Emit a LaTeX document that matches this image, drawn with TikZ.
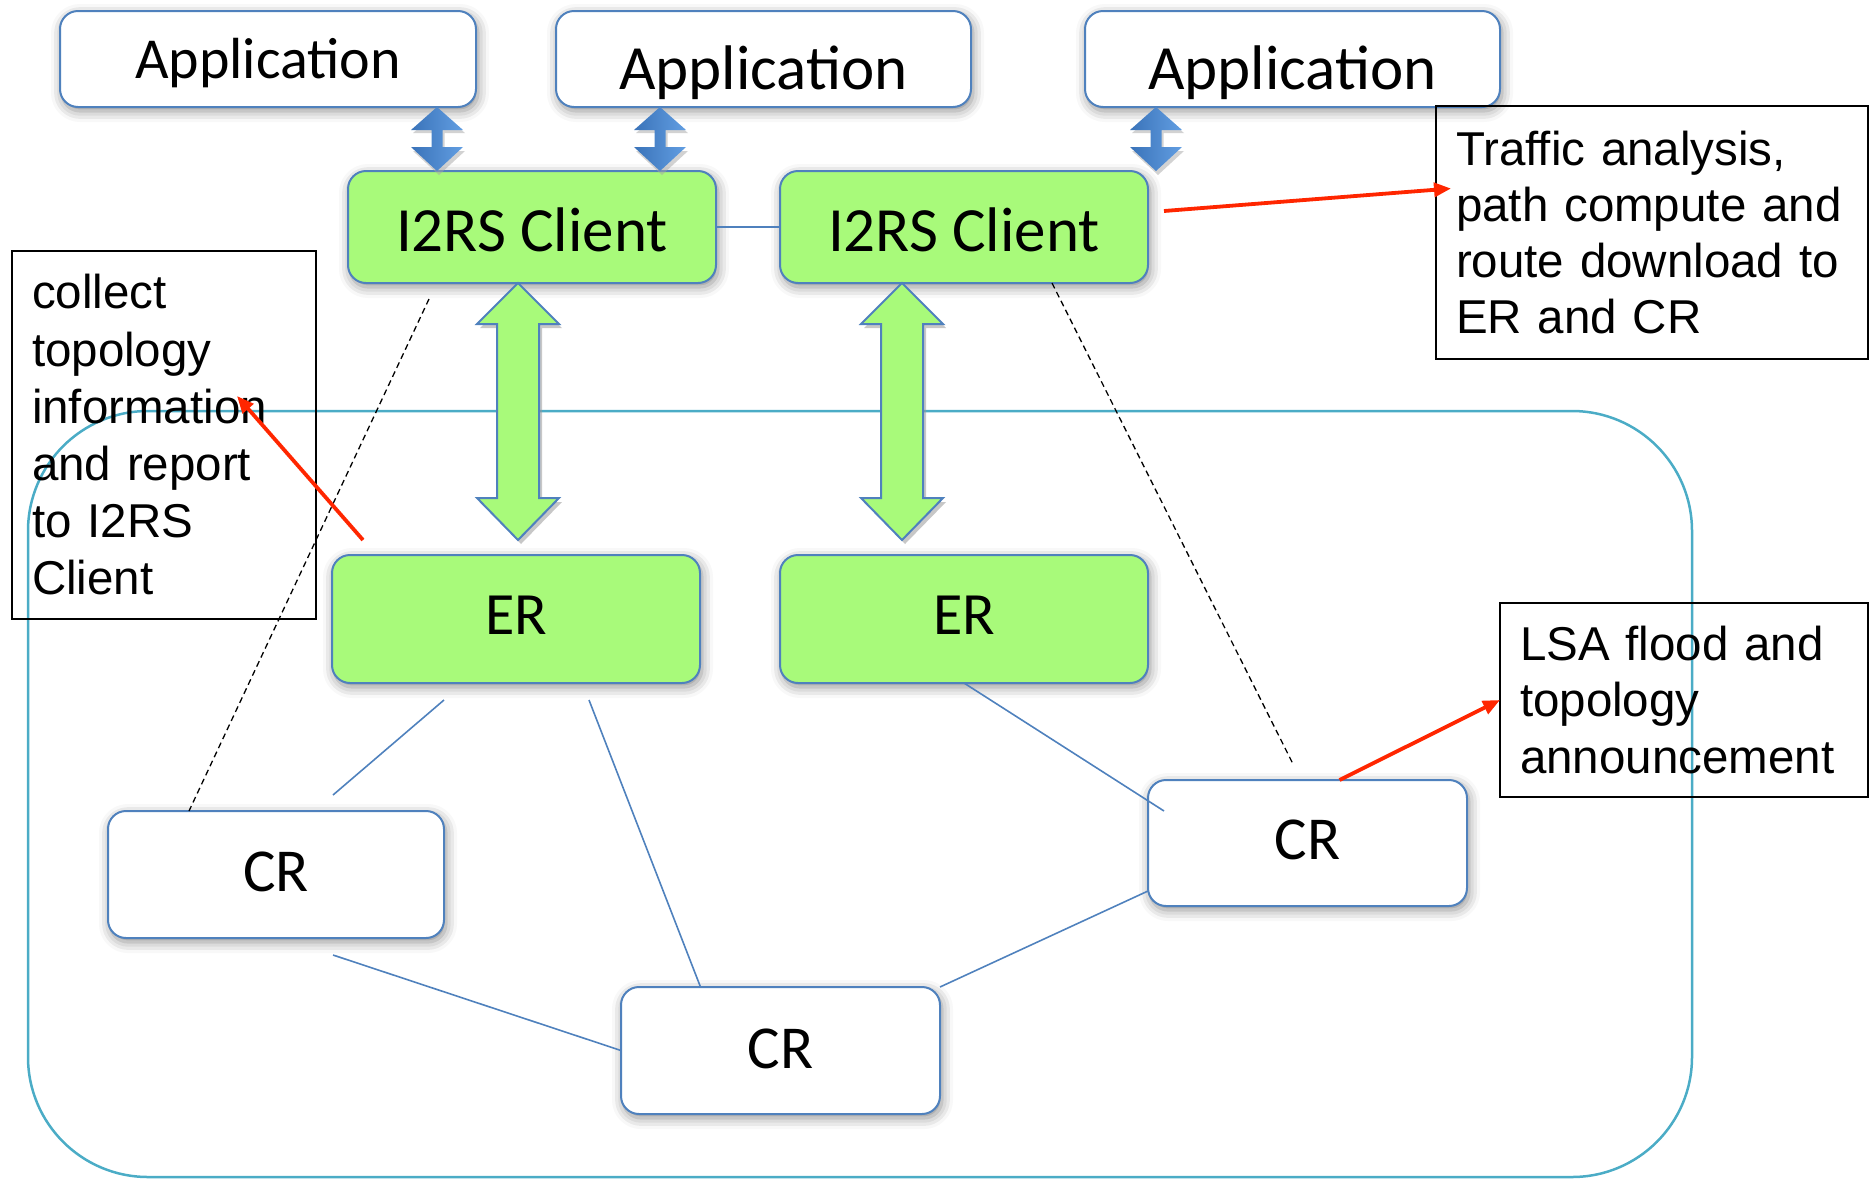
\documentclass[tikz,border=0pt]{standalone}
\usepackage{fontspec}
\setmainfont{Liberation Sans}
\newfontfamily\boxfont{Carlito}
\usetikzlibrary{arrows.meta,calc,shadows.blur}

\definecolor{boxblue}{RGB}{79,129,189}
\definecolor{boxgreen}{RGB}{168,250,122}
\definecolor{cloudblue}{RGB}{75,172,198}
\definecolor{callred}{RGB}{255,38,0}
\definecolor{arrowblueA}{RGB}{58,115,185}
\definecolor{arrowblueB}{RGB}{98,158,226}

% small blue double arrow: #1 x, #2 upper anchor, #3 lower anchor
\newcommand\bluelink[3]{%
  \path[fill=black!35,opacity=0.5] let \p1=(#1,0 |- #2), \p2=(#1,0 |- #3) in
    (\x1+2pt,\y1-4pt) -- (\x1+28pt,\y1-26pt) -- (\x1+7.5pt,\y1-26pt) -- (\x1+7.5pt,\y2+20pt)
    -- (\x1+28pt,\y2+20pt) -- (\x2+2pt,\y2-4pt) -- (\x1-24pt,\y2+20pt) -- (\x1-3.5pt,\y2+20pt)
    -- (\x1-3.5pt,\y1-26pt) -- (\x1-24pt,\y1-26pt) -- cycle;
  \path[left color=arrowblueA,right color=arrowblueB] let \p1=(#1,0 |- #2), \p2=(#1,0 |- #3) in
    (\x1,\y1) -- (\x1+26pt,\y1-23pt) -- (\x1+5.5pt,\y1-23pt) -- (\x1+5.5pt,\y2+24pt)
    -- (\x1+26pt,\y2+24pt) -- (\x2,\y2) -- (\x1-26pt,\y2+24pt) -- (\x1-5.5pt,\y2+24pt)
    -- (\x1-5.5pt,\y1-23pt) -- (\x1-26pt,\y1-23pt) -- cycle;
}
% big green double arrow: #1 x, #2 upper anchor, #3 lower anchor
\newcommand\greenlink[3]{%
  \path[fill=black!40,opacity=0.55] let \p1=(#1,0 |- #2), \p2=($(#1,0 |- #3)+(0,-15)$) in
    (\x1+3pt,\y1-4pt) -- (\x1+44pt,\y1-45pt) -- (\x1+24pt,\y1-45pt) -- (\x1+24pt,\y2+38pt)
    -- (\x1+44pt,\y2+38pt) -- (\x2+3pt,\y2-4pt) -- (\x1-38pt,\y2+38pt) -- (\x1-18pt,\y2+38pt)
    -- (\x1-18pt,\y1-45pt) -- (\x1-38pt,\y1-45pt) -- cycle;
  \path[fill=boxgreen,draw=boxblue,line width=2pt,line join=miter] let \p1=(#1,0 |- #2), \p2=($(#1,0 |- #3)+(0,-15)$) in
    (\x1,\y1) -- (\x1+41pt,\y1-41pt) -- (\x1+21pt,\y1-41pt) -- (\x1+21pt,\y2+42pt)
    -- (\x1+41pt,\y2+42pt) -- (\x2,\y2) -- (\x1-41pt,\y2+42pt) -- (\x1-21pt,\y2+42pt)
    -- (\x1-21pt,\y1-41pt) -- (\x1-41pt,\y1-41pt) -- cycle;
}

\begin{document}
\begin{tikzpicture}[x=1pt,y=-1pt,outer sep=0pt,
  shadowed/.style={blur shadow={shadow xshift=2pt,shadow yshift=-4pt,shadow blur radius=11pt,shadow opacity=45}},
  whitebox/.style={draw=boxblue,line width=2pt,fill=white,rounded corners=18pt,inner sep=0pt,text depth=0pt,shadowed},
  greenbox/.style={whitebox,fill=boxgreen},
  notebox/.style={draw=black,line width=2.2pt,inner xsep=20pt,inner ysep=0pt,align=left,anchor=north west},
  link/.style={draw=boxblue,line width=1.6pt},
  ctrl/.style={draw=black,line width=1.3pt,dash pattern=on 6pt off 4pt},
  callout/.style={draw=callred,line width=3.8pt,-{Triangle[length=17pt,width=14pt]}},
]
\useasboundingbox (0,0) rectangle (1875,1179);

% network domain
\draw[cloudblue,line width=2.5pt,rounded corners=120pt] (28,411) rectangle (1692,1177);

% application boxes
\node[whitebox,minimum width=416pt,minimum height=96pt,text height=39pt,
      font=\boxfont\fontsize{58}{70}\selectfont] (app1) at (268,59) {Application};
\node[whitebox,minimum width=415pt,minimum height=96pt,text height=60pt,
      font=\boxfont\fontsize{63}{75}\selectfont] (app2) at (763.5,59) {Application};
\node[whitebox,minimum width=415pt,minimum height=96pt,text height=60pt,
      font=\boxfont\fontsize{63}{75}\selectfont] (app3) at (1292.5,59) {Application};

% I2RS clients
\node[greenbox,minimum width=368pt,minimum height=112pt,text height=49pt,
      font=\boxfont\fontsize{63}{75}\selectfont] (client1) at (532,227) {I2RS Client};
\node[greenbox,minimum width=368pt,minimum height=112pt,text height=49pt,
      font=\boxfont\fontsize{63}{75}\selectfont] (client2) at (964,227) {I2RS Client};

% edge routers
\node[greenbox,minimum width=368pt,minimum height=128pt,text height=30pt,
      font=\boxfont\fontsize{60}{72}\selectfont] (er1) at (516,619) {ER};
\node[greenbox,minimum width=368pt,minimum height=128pt,text height=30pt,
      font=\boxfont\fontsize{60}{72}\selectfont] (er2) at (964,619) {ER};

% core routers
\node[whitebox,minimum width=336pt,minimum height=127pt,text height=34pt,
      font=\boxfont\fontsize{61}{73}\selectfont] (cr1) at (276,874.5) {CR};
\node[whitebox,minimum width=319pt,minimum height=127pt,text height=35pt,
      font=\boxfont\fontsize{61}{73}\selectfont] (cr2) at (780.5,1050.5) {CR};
\node[whitebox,minimum width=319pt,minimum height=126pt,text height=32pt,
      font=\boxfont\fontsize{61}{73}\selectfont] (cr3) at (1307.5,843) {CR};

% client interconnection
\draw[link] (client1.east) -- (client2.west);

% application <-> client arrows
\bluelink{437}{app1.south}{client1.north}
\bluelink{660}{app2.south}{client1.north}
\bluelink{1156}{app3.south}{client2.north}

% client <-> ER arrows
\greenlink{518}{client1.south}{er1.north}
\greenlink{902}{client2.south}{er2.north}

% topology links
\draw[link] ($(er1.south)+(-72,17)$) -- ($(cr1.north)+(57,-16)$);
\draw[link] ($(er1.south)+(73,17)$) -- ($(cr2.north)+(-80,0)$);
\draw[link] ($(cr1.south)+(57,17)$) -- (cr2.west);
\draw[link] (er2.south) -- ($(cr3.west)+(16,-32)$);
\draw[link] ($(cr3.west)+(0,48)$) -- (cr2.north east);

% control (dashed) lines
\draw[ctrl] ($(client1.south)+(-103,16)$) -- ($(cr1.north)+(-87,0)$);
\draw[ctrl] ($(client2.south)+(88,0)$) -- ($(cr3.north)+(-15,-17)$);

% notes
\node[notebox,text width=264pt,minimum height=368pt,
      font=\fontsize{47.5}{57.2}\selectfont] (note1) at (12,251)
  {collect\\topology\\information\\and report\\to I2RS\\Client};
\node[notebox,text width=392pt,minimum height=253pt,
      font=\fontsize{47.5}{56.3}\selectfont] (note2) at (1436,106)
  {Traffic analysis,\\path compute and\\route download to\\ER and CR};
\node[notebox,text width=328pt,minimum height=194pt,
      font=\fontsize{47.5}{56.5}\selectfont] (note3) at (1500,603)
  {LSA flood and\\topology\\announcement};

% red callout arrows
\draw[callout] ($(er1.north west)+(31,-15)$) -- ($(note1.east)+(-79,-39)$);
\draw[callout] ($(client2.east)+(16,-16)$) -- ($(note2.west)+(15,-44)$);
\draw[callout] ($(cr3.north)+(32,0)$) -- (note3.west);
\end{tikzpicture}
\end{document}
